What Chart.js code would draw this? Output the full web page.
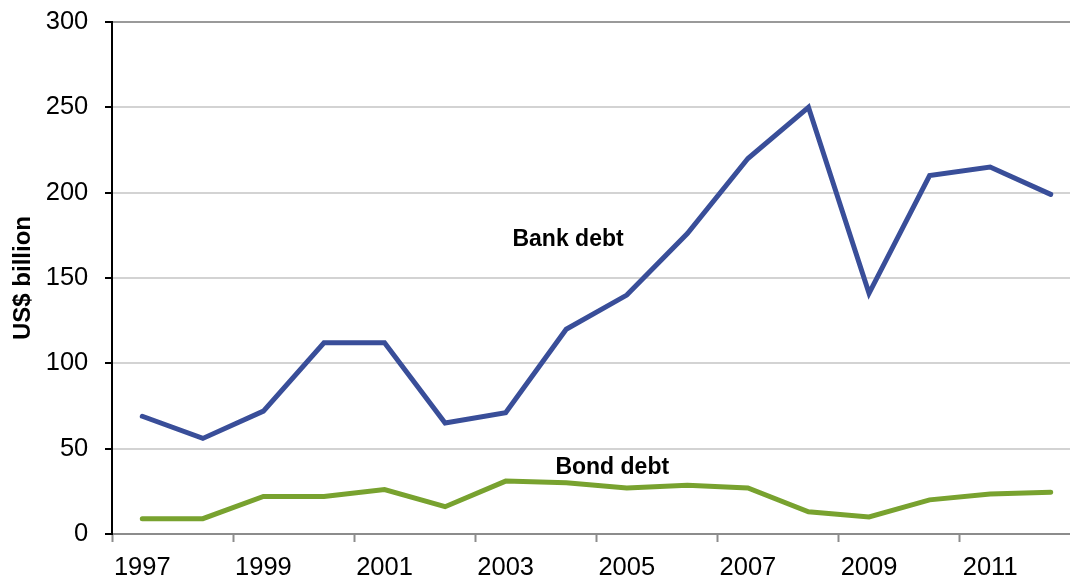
<!DOCTYPE html>
<html>
<head>
<meta charset="utf-8">
<script src="https://cdn.jsdelivr.net/npm/chart.js@4/dist/chart.umd.min.js"></script>
<style>
  html, body { margin: 0; padding: 0; background: #fff; overflow: hidden; }
  #wrap { width: 1100px; height: 578px; }
  canvas { display: block; }
</style>
</head>
<body>
<div id="wrap"><canvas id="debt" width="1100" height="578"></canvas></div>
<script>
// Years on the category axis
const years = ['1997', '1998', '1999', '2000', '2001', '2002', '2003', '2004',
               '2005', '2006', '2007', '2008', '2009', '2010', '2011', '2012'];

// US$ billion
const bankDebt = [69, 56, 72, 112, 112, 65, 71, 120, 140, 176, 220, 250, 141, 210, 215, 199];
const bondDebt = [9, 9, 22, 22, 26, 16, 31, 30, 27, 28.5, 27, 13, 10, 20, 23.5, 24.5];

// Value-axis ticks
const yTicks = [0, 50, 100, 150, 200, 250, 300];

// In-chart series captions: anchor as (category index, value) on the scales
const seriesCaptions = [
  { text: 'Bank debt', index: 7.03, value: 168.8 },
  { text: 'Bond debt', index: 7.76, value: 35.2 }
];

const FONT = '"Liberation Sans", Arial, Helvetica, sans-serif';

const captionPlugin = {
  id: 'seriesCaptions',
  afterDatasetsDraw(chart) {
    const { ctx, scales: { x, y } } = chart;
    ctx.save();
    ctx.font = 'bold 23px ' + FONT;
    ctx.fillStyle = '#000';
    ctx.textAlign = 'center';
    ctx.textBaseline = 'alphabetic';
    seriesCaptions.forEach(c => {
      ctx.fillText(c.text, x.getPixelForValue(c.index), y.getPixelForValue(c.value));
    });
    ctx.restore();
  }
};

new Chart(document.getElementById('debt'), {
  type: 'line',
  data: {
    labels: years,
    datasets: [
      {
        label: 'Bank debt',
        data: bankDebt,
        borderColor: '#394e99',
        borderWidth: 5,
        pointRadius: 0,
        tension: 0,
        borderCapStyle: 'round',
        borderJoinStyle: 'miter'
      },
      {
        label: 'Bond debt',
        data: bondDebt,
        borderColor: '#78a22f',
        borderWidth: 5,
        pointRadius: 0,
        tension: 0,
        borderCapStyle: 'round',
        borderJoinStyle: 'miter'
      }
    ]
  },
  options: {
    responsive: false,
    animation: false,
    devicePixelRatio: 1,
    layout: { padding: { top: 22, right: 19, left: 0, bottom: 0 } },
    plugins: {
      legend: { display: false },
      tooltip: { enabled: false }
    },
    scales: {
      x: {
        type: 'category',
        offset: true,
        grid: {
          offset: true,
          drawOnChartArea: false,
          drawTicks: true,
          tickLength: 8,
          tickWidth: 2,
          tickColor: (ctx) => (ctx.index % 2 === 0 ? '#8c8c8c' : 'rgba(0,0,0,0)'),
          color: 'rgba(0,0,0,0)'
        },
        border: { display: true, color: '#8c8c8c', width: 2 },
        ticks: {
          autoSkip: false,
          maxRotation: 0,
          padding: 11,
          color: '#000',
          font: { family: FONT, size: 25.5 },
          callback: function (value, index) {
            return index % 2 === 0 ? this.getLabelForValue(value) : '';
          }
        },
        afterFit: (scale) => { scale.height = 44; }
      },
      y: {
        min: 0,
        max: 300,
        afterBuildTicks: (scale) => { scale.ticks = yTicks.map(v => ({ value: v })); },
        grid: {
          drawTicks: true,
          tickLength: 7,
          tickWidth: 2,
          tickColor: '#000',
          lineWidth: 2,
          color: (ctx) => (ctx.tick && ctx.tick.value === 300 ? '#9a9a9a' : (ctx.tick && ctx.tick.value === 0 ? 'rgba(0,0,0,0)' : '#d3d3d3'))
        },
        border: { display: true, color: '#000', width: 2 },
        ticks: {
          padding: 16.7,
          color: '#000',
          font: { family: FONT, size: 25.5 }
        },
        title: {
          display: true,
          text: 'US$ billion',
          color: '#000',
          font: { family: FONT, size: 24, weight: 'bold' },
          padding: { top: 9, bottom: 0 }
        },
        afterFit: (scale) => {
          scale.width = 112;
          scale.paddingTop = 0;
          scale.paddingBottom = 0;
        }
      }
    }
  },
  plugins: [captionPlugin]
});
</script>
</body>
</html>
